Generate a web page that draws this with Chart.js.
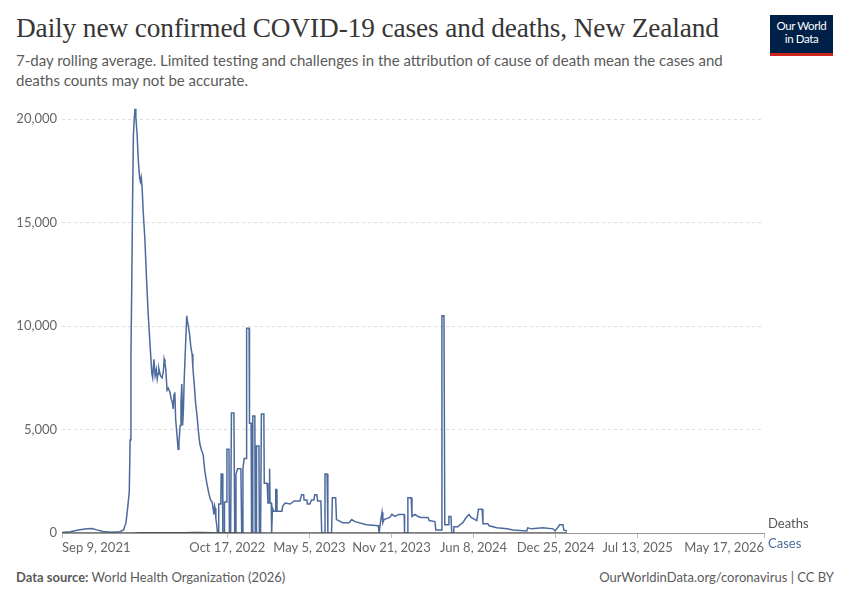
<!DOCTYPE html>
<html>
<head>
<meta charset="utf-8">
<script src="https://cdn.jsdelivr.net/npm/chart.js@4.4.0/dist/chart.umd.min.js"></script>
<style>
  body { margin:0; background:#fff; width:850px; height:600px; position:relative; font-family:Lato, sans-serif; overflow:hidden; }
  #title { position:absolute; left:16px; top:13px; font-family:"Liberation Serif", serif; font-size:27.3px; color:#363636; white-space:nowrap; letter-spacing:-0.1px; }
  #subtitle { position:absolute; left:16px; top:51px; width:740px; font-size:15px; line-height:19.5px; color:#5b5b5b; }
  #logo { position:absolute; left:770px; top:15px; width:63px; height:34px; background:#002147; border-bottom:3px solid #ce261e; color:#fff; font-size:11.5px; line-height:13px; text-align:center; padding-top:4px; box-sizing:content-box; letter-spacing:-0.4px; }
  #chartBox { position:absolute; left:0; top:94px; width:850px; height:467px; }
  #footL { position:absolute; left:16px; top:569px; font-size:13px; color:#5b5b5b; }
  #footR { position:absolute; right:16px; top:569px; font-size:13px; color:#5b5b5b; }
</style>
</head>
<body>
<div id="title">Daily new confirmed COVID-19 cases and deaths, New Zealand</div>
<div id="subtitle">7-day rolling average. Limited testing and challenges in the attribution of cause of death mean the cases and deaths counts may not be accurate.</div>
<div id="logo">Our World<br>in Data</div>
<div id="chartBox"><canvas id="chart" width="850" height="467"></canvas></div>
<div id="footL"><b>Data source:</b> World Health Organization (2026)</div>
<div id="footR">OurWorldinData.org/coronavirus | CC BY</div>
<script>
(function(){
  // days counted from Sep 9, 2021
  const tickDays = [0, 403, 603, 803, 1003, 1203, 1403, 1711];
  const tickLabels = ['Sep 9, 2021','Oct 17, 2022','May 5, 2023','Nov 21, 2023','Jun 8, 2024','Dec 25, 2024','Jul 13, 2025','May 17, 2026'];
  const yTicks = [0, 5000, 10000, 15000, 20000];
  const seriesNames = ['Deaths', 'Cases'];

  const caseDays = [0,20,40,60,73,85,100,120,141,150,156,160,164,166,168,170,172,174,176,178,180,183,186,189,191,193,195,198,202,206,210,214,219,221,224,227,230,232,234,236,240,244,247,249,251,253,256,259,263,266,269,271,273,275,277,280,283,285,288,290,292,294,296,298,301,304,306,308,311,314,317,319,323,326,329,333,336,340,344,348,353,358,362,366,369,370,372,373,375,377,379,
    381,382,387,388,391,392,395,396,401,402,407,408,411,413,419,421,423,424,428,436,438,440,441,444,449,450,456,457,461,462,464,465,470,471,473,474,480,481,484,486,492,493,500,502,505,506,507,510,511,513,516,520,521,523,524,536,538,544,556,566,580,584,589,590,597,598,604,608,614,616,621,623,631,633,639,641,646,648,657,659,667,669,684,700,706,714,742,771,773,776,780,782,785,799,804,812,821,834,835,841,843,851,853,860,868,875,892,895,909,911,924,926,931,933,941,943,948,950,953,955,965,970,977,985,992,997,1011,1015,1024,1026,1038,1041,1060,1085,1099,1133,1135,1145,1172,1197,1202,1213,1221,1223,1231];
  const caseValues = [20,60,150,210,220,150,70,40,60,150,500,1200,2000,4500,8500,12000,16000,19200,20000,20500,20100,19300,18000,17200,17000,17200,16800,15500,14200,12300,10600,9300,7700,7500,8400,7600,7900,7450,7700,7950,7600,7500,7800,8400,8200,7900,6900,7000,6800,6500,6300,6000,6700,6800,5500,4800,4050,4400,5200,6300,7200,5200,6000,7500,9000,10500,10200,10000,9600,9000,8650,8000,7000,6200,5700,4800,4300,4000,3800,3000,2400,1900,1600,1500,1100,900,1300,1200,700,400,0,
    0,1400,1400,2850,2850,0,0,1500,1500,4050,4050,0,0,5800,5800,0,0,2850,3100,3100,0,0,3100,3600,3600,9900,9900,5300,5300,0,0,5650,5650,0,0,4200,4200,0,0,5750,5750,2400,2400,1450,1450,3100,1450,1450,0,1200,1050,1050,2100,2100,1050,1050,1300,1450,1400,1550,1550,1850,1850,1600,1600,1400,1400,1600,1600,1850,1850,1550,1550,0,0,2850,2850,0,0,1700,1700,650,500,500,650,550,400,350,0,500,1000,500,650,750,900,800,900,900,0,0,1700,1700,800,900,800,750,750,600,550,150,150,10500,10500,400,400,800,800,0,0,300,300,400,500,750,900,750,600,1150,1150,450,450,350,250,200,150,100,250,200,250,200,100,400,400,150,100];

  const deathDays = [0,150,170,190,230,300,320,340,370,400,450,500,600,700,800,900,1000,1231];
  const deathValues = [0,0,3,8,12,18,22,20,12,8,6,4,3,2,2,1,1,0];

  function pts(xs, ys){ return xs.map((x,i)=>({x, y: ys[i]})); }

  const endLabels = {
    id: 'endLabels',
    afterDraw(chart){
      const ctx = chart.ctx, a = chart.chartArea;
      ctx.save();
      ctx.font = '13px Lato';
      ctx.textBaseline = 'middle';
      ctx.fillStyle = '#555';
      ctx.fillText(seriesNames[0], a.right + 4, a.bottom - 9);
      ctx.fillStyle = '#4c6a9c';
      ctx.fillText(seriesNames[1], a.right + 4, a.bottom + 11);
      ctx.restore();
    }
  };

  new Chart(document.getElementById('chart').getContext('2d'), {
    type: 'line',
    data: {
      datasets: [
        { label: seriesNames[0], data: pts(deathDays, deathValues), borderColor: '#555', borderWidth: 1.5, pointRadius: 0, tension: 0 },
        { label: seriesNames[1], data: pts(caseDays, caseValues), borderColor: '#4c6a9c', borderWidth: 1.5, pointRadius: 0, tension: 0 }
      ]
    },
    options: {
      responsive: false,
      animation: false,
      layout: { padding: { top: 0, right: 86, left: 0, bottom: 0 } },
      plugins: { legend: { display: false }, tooltip: { enabled: false } },
      scales: {
        x: {
          type: 'linear', min: 0, max: 1711,
          afterBuildTicks: s => { s.ticks = tickDays.map(v => ({ value: v })); },
          afterFit: s => { s.height = 28; },
          grid: { drawOnChartArea: false, drawTicks: true, tickLength: 5, color: '#bbb' },
          border: { color: '#999', width: 1 },
          ticks: { autoSkip: false, maxRotation: 0, align: 'inner', padding: 2, color: '#666', font: { family: 'Lato', size: 13 },
                   callback: (v, i) => tickLabels[i] }
        },
        y: {
          min: 0, max: 20600,
          afterBuildTicks: s => { s.ticks = yTicks.map(v => ({ value: v })); },
          afterFit: s => { s.width = 62; },
          grid: { color: '#ddd', drawTicks: false },
          border: { display: false, dash: [3, 3] },
          ticks: { padding: 5, color: '#666', font: { family: 'Lato', size: 13 },
                   callback: v => v.toLocaleString('en-US') }
        }
      }
    },
    plugins: [endLabels]
  });
})();
</script>
</body>
</html>
